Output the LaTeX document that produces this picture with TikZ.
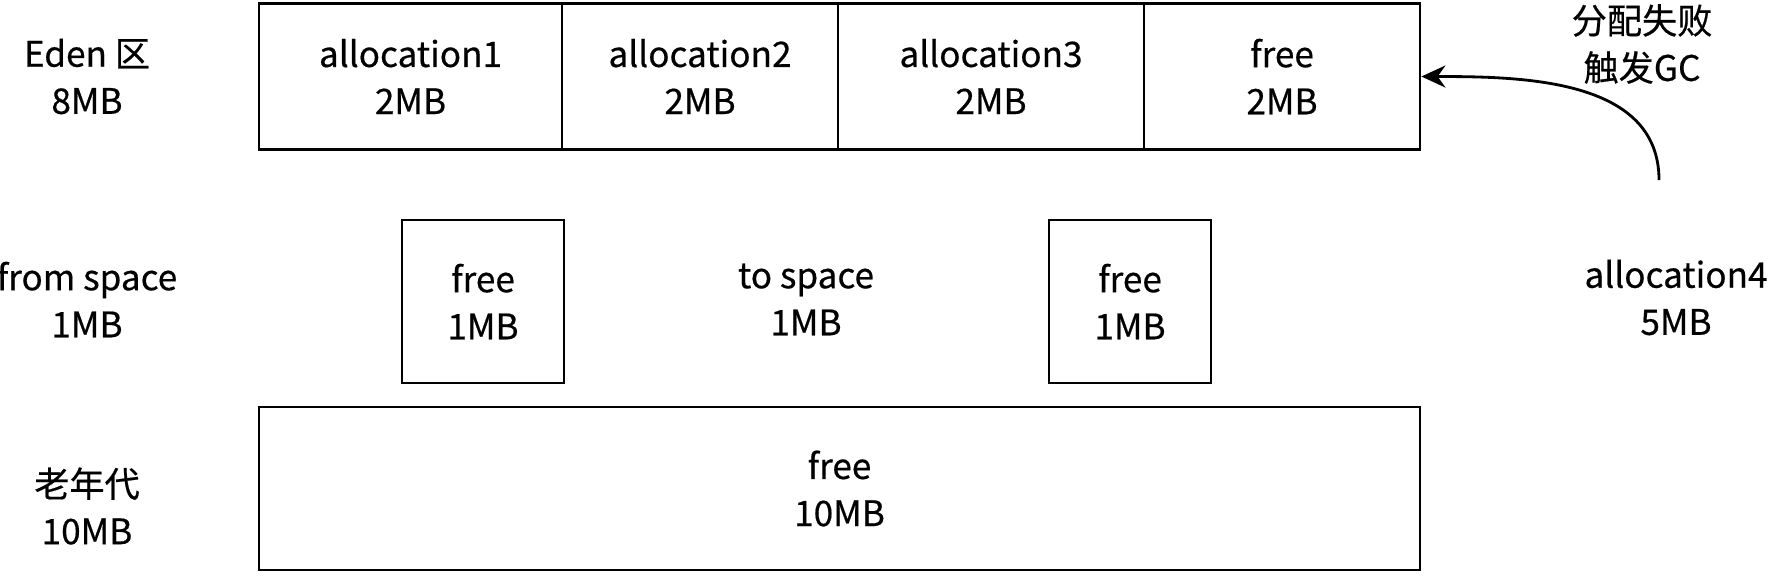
\documentclass[tikz,border=0pt]{standalone}
\usepackage{fontspec}
\setmainfont{Noto Sans CJK SC}[FakeBold=0.5]
\usetikzlibrary{arrows.meta}

\begin{document}
\begin{tikzpicture}[
            every node/.style={font=\fontsize{10}{13.4}\selectfont, align=center},
            blk/.style={draw, line width=0.8pt, inner sep=0pt, minimum height=1.46cm},
            sbox/.style={draw, line width=0.8pt, inner sep=0pt, minimum width=1.62cm, minimum height=1.63cm},
        ]
            \useasboundingbox (0,0) rectangle (17.76,-5.76);
            % eden
            \node (eden) at (0.87,-0.765) {Eden 区\\8MB};
            \node[blk, minimum width=3.03cm] (a1) at (4.105,-0.765) {allocation1\\2MB};
            \node[blk, minimum width=2.76cm] (a2) at (7.00,-0.765) {allocation2\\2MB};
            \node[blk, minimum width=3.06cm] (a3) at (9.91,-0.765) {allocation3\\2MB};
            \node[blk, minimum width=2.76cm] (f4) at (12.82,-0.765) {free\\2MB};
            \node (gc) at (16.42,-0.44) {分配失败\\触发GC};
            % survivor
            \node (from) at (0.87,-2.995) {from space\\1MB};
            \node[sbox] (s1) at (4.83,-3.015) {free\\1MB};
            \node (to) at (8.06,-2.995) {to space\\1MB};
            \node[sbox] (s2) at (11.30,-3.015) {free\\1MB};
            \node (a4) at (16.76,-2.975) {allocation4\\5MB};
            % old
            \node (old) at (0.87,-5.06) {老年代\\10MB};
            \node[blk, minimum width=11.61cm, minimum height=1.63cm] (ofree) at (8.395,-4.885) {free\\10MB};
            \coordinate (src) at (16.59,-1.80);
            \draw[-{Stealth[length=2.4mm, width=2.2mm]}, line width=0.8pt] (src) to[out=90, in=0] (f4.east);
        \end{tikzpicture}
\end{document}
